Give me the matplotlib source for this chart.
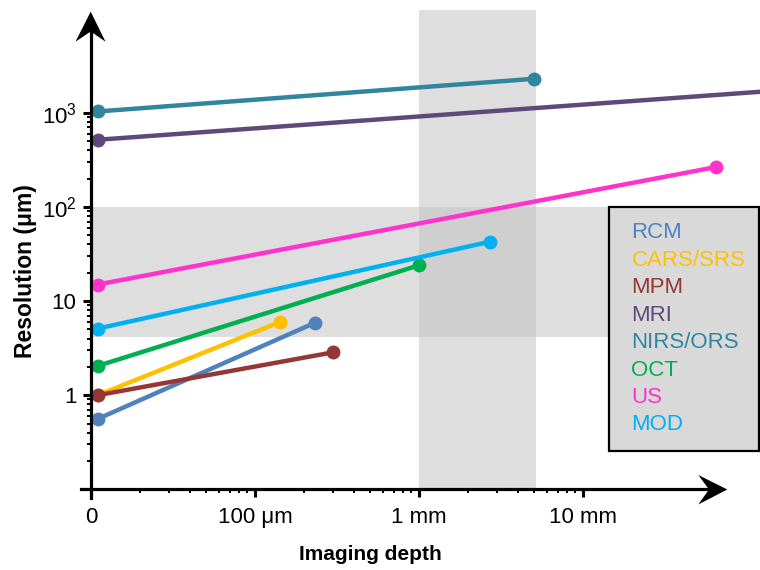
import matplotlib
matplotlib.use('Agg')
import matplotlib.pyplot as plt
from matplotlib.patches import Polygon, Rectangle
from matplotlib.lines import Line2D
from matplotlib.ticker import FixedLocator, FixedFormatter, NullFormatter

plt.rcParams['font.family'] = ['Liberation Sans', 'DejaVu Sans']
plt.rcParams['mathtext.fontset'] = 'custom'
plt.rcParams['mathtext.rm'] = 'Liberation Sans'

# ---------------- data ----------------
techniques = ['RCM', 'CARS/SRS', 'MPM', 'MRI', 'NIRS/ORS', 'OCT', 'US', 'MOD']
colors = ['#4f81bd', '#ffc000', '#953735', '#5f497a', '#31859c', '#00b050', '#ff33cc', '#00b0f0']
depth_start_um = [11, 11, 11, 11, 11, 11, 11, 11]
depth_end_um = [233, 142, 298, 300000, 5000, 1000, 65000, 2700]
res_start_um = [0.56, 1.0, 1.0, 518, 1035, 2.05, 15, 5.1]
res_end_um = [5.9, 6.0, 2.85, 1880, 2300, 24, 266, 42.7]

band_res_um = [4.2, 100]
band_depth_um = [1000, 5150]

x_major = [10, 100, 1000, 10000]
x_labels = ['0', '100 μm', '1 mm', '10 mm']
y_major = [0.1, 1, 10, 100, 1000]
y_labels = ['', '1', '10', r'$\mathregular{10^2}$', r'$\mathregular{10^3}$']

# ---------------- figure ----------------
W, H = 760, 570
fig = plt.figure(figsize=(7.6, 5.7), dpi=100)

def fx(px):
    return px / W

def fy(py):
    return 1 - py / H

ax = fig.add_axes([fx(91), fy(489.3), fx(760) - fx(91), fy(10) - fy(489.3)])
ax.set_xscale('log')
ax.set_yscale('log')
xmax = 10 ** (1 + 669 / 164)
ymax = 10 ** 4.093
ax.set_xlim(10, xmax)
ax.set_ylim(0.1, ymax)
ax.patch.set_alpha(0)

# shaded bands
band_c = '#dedede'
ax.fill_between([10, xmax], band_res_um[0], band_res_um[1], color=band_c, lw=0, zorder=0)
ax.fill_between(band_depth_um, 0.1, ymax, color=band_c, lw=0, zorder=0)
ax.fill_between(band_depth_um, band_res_um[0], band_res_um[1], color='#cfcfcf', lw=0, zorder=0.5)

# lines
for i in range(len(techniques)):
    ax.plot([depth_start_um[i], depth_end_um[i]], [res_start_um[i], res_end_um[i]],
            color=colors[i], lw=3.2, marker='o', ms=9, zorder=3, solid_capstyle='butt')

# ticks
for s in ax.spines.values():
    s.set_visible(False)
ax.xaxis.set_major_locator(FixedLocator(x_major))
ax.xaxis.set_major_formatter(FixedFormatter(x_labels))
ax.xaxis.set_minor_locator(FixedLocator([k * 10 ** e for e in (1, 2, 3) for k in range(2, 10)]))
ax.xaxis.set_minor_formatter(NullFormatter())
ax.yaxis.set_major_locator(FixedLocator(y_major))
ax.yaxis.set_major_formatter(FixedFormatter(y_labels))
ax.yaxis.set_minor_locator(FixedLocator([k * 10.0 ** e for e in (-1, 0, 1, 2) for k in range(2, 10)]))
ax.yaxis.set_minor_formatter(NullFormatter())
ax.tick_params(which='major', direction='out', length=6, width=2.2, labelsize=16, pad=7)
ax.tick_params(which='minor', direction='out', length=3, width=1.4)
ax.tick_params(axis='y', which='major', pad=4.5)

# axis lines with arrowheads
lw_ax = 2.3
fig.add_artist(Line2D([fx(80.7), fx(712)], [fy(489.3), fy(489.3)], color='black', lw=lw_ax,
                      transform=fig.transFigure))
fig.add_artist(Line2D([fx(90.7), fx(90.7)], [fy(498), fy(30)], color='black', lw=lw_ax,
                      transform=fig.transFigure))
fig.add_artist(Polygon([(fx(727.3), fy(489.5)), (fx(698.3), fy(475)), (fx(709), fy(489.5)),
                        (fx(698.3), fy(504.5))], closed=True, color='black',
                       transform=fig.transFigure, lw=0))
fig.add_artist(Polygon([(fx(90.7), fy(11.7)), (fx(75.5), fy(41.7)), (fx(90.7), fy(31.5)),
                        (fx(105.5), fy(41.7))], closed=True, color='black',
                       transform=fig.transFigure, lw=0))

# axis labels
fig.text(fx(370), fy(555), 'Imaging depth', ha='center', va='center', fontsize=15, fontweight='bold')
fig.text(fx(26), fy(271), 'Resolution (μm)', ha='center', va='center', fontsize=16.5,
         fontweight='bold', rotation=90)

# legend box
fig.add_artist(Rectangle((fx(608.5), fy(451)), fx(759) - fx(608.5), fy(207) - fy(451),
                         facecolor='#d9d9d9', edgecolor='black', lw=1.6,
                         transform=fig.transFigure, zorder=5))
y0 = 233
for i, name in enumerate(techniques):
    fig.text(fx(631.5), fy(y0 + i * 27.4), name, color=colors[i], fontsize=16,
             ha='left', va='center', zorder=6)

fig.savefig('out.png', dpi=100)
